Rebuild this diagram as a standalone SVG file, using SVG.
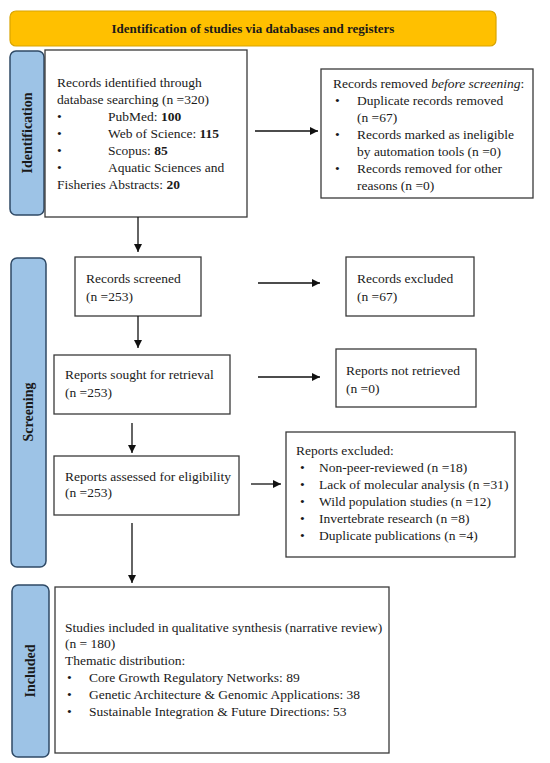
<svg xmlns="http://www.w3.org/2000/svg" width="550" height="763" viewBox="0 0 550 763">
<style>
text{font-family:"Liberation Serif","Times New Roman",serif;font-size:13.5px;fill:#1a1a1a}
.b{font-weight:bold}
.t{font-size:13px}
.s{font-size:14px;font-weight:bold}
.box{fill:#fff;stroke:#3a3a3a;stroke-width:1.3}
.side{fill:#9DC3E6;stroke:#2F4A66;stroke-width:1.5}
.conn{stroke:#111;stroke-width:1.3;fill:none}
</style>
<defs>
<marker id="ah" viewBox="0 0 10 10" refX="10" refY="5" markerWidth="8" markerHeight="8" markerUnits="userSpaceOnUse" orient="auto">
<path d="M0,0 L10,5 L0,10 z" fill="#111"/>
</marker>
</defs>
<rect width="550" height="763" fill="#fff"/>
<g id="title">
<rect x="10" y="11" width="486" height="35" rx="6" fill="#FFC000" stroke="#D9A400" stroke-width="1.2"/>
<text x="253" y="33" text-anchor="middle" class="b t">Identification of studies via databases and registers</text>
</g>
<g id="lbl-identification">
<rect class="side" x="10" y="51" width="34" height="164" rx="6"/>
<text class="s" transform="translate(32,133) rotate(-90)" text-anchor="middle">Identification</text>
</g>
<g id="lbl-screening">
<rect class="side" x="11" y="258" width="35" height="309" rx="6"/>
<text class="s" transform="translate(33,412) rotate(-90)" text-anchor="middle">Screening</text>
</g>
<g id="lbl-included">
<rect class="side" x="12" y="585" width="37" height="172" rx="6"/>
<text class="s" transform="translate(35,671) rotate(-90)" text-anchor="middle">Included</text>
</g>
<g id="n-identified">
<rect class="box" x="45" y="50" width="202" height="167"/>
<text x="57" y="87">Records identified through</text>
<text x="57" y="104">database searching (n =320)</text>
<text x="57" y="121">•</text><text x="108" y="121">PubMed: <tspan class="b">100</tspan></text>
<text x="57" y="138">•</text><text x="108" y="138">Web of Science: <tspan class="b">115</tspan></text>
<text x="57" y="155">•</text><text x="108" y="155">Scopus: <tspan class="b">85</tspan></text>
<text x="57" y="172">•</text><text x="108" y="172">Aquatic Sciences and</text>
<text x="57" y="189">Fisheries Abstracts: <tspan class="b">20</tspan></text>
</g>
<g id="n-removed">
<rect class="box" x="321" y="69" width="212" height="129"/>
<text x="333" y="88">Records removed <tspan font-style="italic">before screening</tspan>:</text>
<text x="335" y="105">•</text><text x="357" y="105">Duplicate records removed</text>
<text x="357" y="122">(n =67)</text>
<text x="335" y="139">•</text><text x="357" y="139">Records marked as ineligible</text>
<text x="357" y="156">by automation tools (n =0)</text>
<text x="335" y="173">•</text><text x="357" y="173">Records removed for other</text>
<text x="357" y="190">reasons (n =0)</text>
</g>
<g id="n-screened">
<rect class="box" x="75" y="257" width="126" height="59"/>
<text x="86" y="283">Records screened</text>
<text x="86" y="301">(n =253)</text>
</g>
<g id="n-excluded">
<rect class="box" x="346" y="257" width="128" height="59"/>
<text x="357" y="283">Records excluded</text>
<text x="357" y="301">(n =67)</text>
</g>
<g id="n-sought">
<rect class="box" x="54" y="355" width="176" height="59"/>
<text x="65" y="379">Reports sought for retrieval</text>
<text x="65" y="397">(n =253)</text>
</g>
<g id="n-notretrieved">
<rect class="box" x="336" y="349" width="140" height="58"/>
<text x="346" y="375">Reports not retrieved</text>
<text x="346" y="393">(n =0)</text>
</g>
<g id="n-assessed">
<rect class="box" x="54" y="456" width="185" height="59"/>
<text x="65" y="481">Reports assessed for eligibility</text>
<text x="65" y="497">(n =253)</text>
</g>
<g id="n-reportsexcluded">
<rect class="box" x="286" y="432" width="229" height="125"/>
<text x="296" y="455">Reports excluded:</text>
<text x="300" y="472">•</text><text x="319" y="472">Non-peer-reviewed (n =18)</text>
<text x="300" y="489">•</text><text x="319" y="489">Lack of molecular analysis (n =31)</text>
<text x="300" y="506">•</text><text x="319" y="506">Wild population studies (n =12)</text>
<text x="300" y="523">•</text><text x="319" y="523">Invertebrate research (n =8)</text>
<text x="300" y="540">•</text><text x="319" y="540">Duplicate publications (n =4)</text>
</g>
<g id="n-included">
<rect class="box" x="55" y="587" width="334" height="166"/>
<text x="65" y="632">Studies included in qualitative synthesis (narrative review)</text>
<text x="65" y="648">(n = 180)</text>
<text x="65" y="665">Thematic distribution:</text>
<text x="67" y="682">•</text><text x="89" y="682">Core Growth Regulatory Networks: 89</text>
<text x="67" y="699">•</text><text x="89" y="699">Genetic Architecture &amp; Genomic Applications: 38</text>
<text x="67" y="716">•</text><text x="89" y="716">Sustainable Integration &amp; Future Directions: 53</text>
</g>
<g id="connectors">
<line class="conn" x1="255" y1="131" x2="318" y2="131" marker-end="url(#ah)"/>
<line class="conn" x1="138" y1="217" x2="138" y2="252" marker-end="url(#ah)"/>
<line class="conn" x1="258" y1="283" x2="320" y2="283" marker-end="url(#ah)"/>
<line class="conn" x1="138" y1="316" x2="138" y2="348" marker-end="url(#ah)"/>
<line class="conn" x1="258" y1="377" x2="320" y2="377" marker-end="url(#ah)"/>
<line class="conn" x1="132" y1="423" x2="132" y2="453" marker-end="url(#ah)"/>
<line class="conn" x1="251" y1="484" x2="281" y2="484" marker-end="url(#ah)"/>
<line class="conn" x1="132" y1="523" x2="132" y2="583" marker-end="url(#ah)"/>
</g>
</svg>
